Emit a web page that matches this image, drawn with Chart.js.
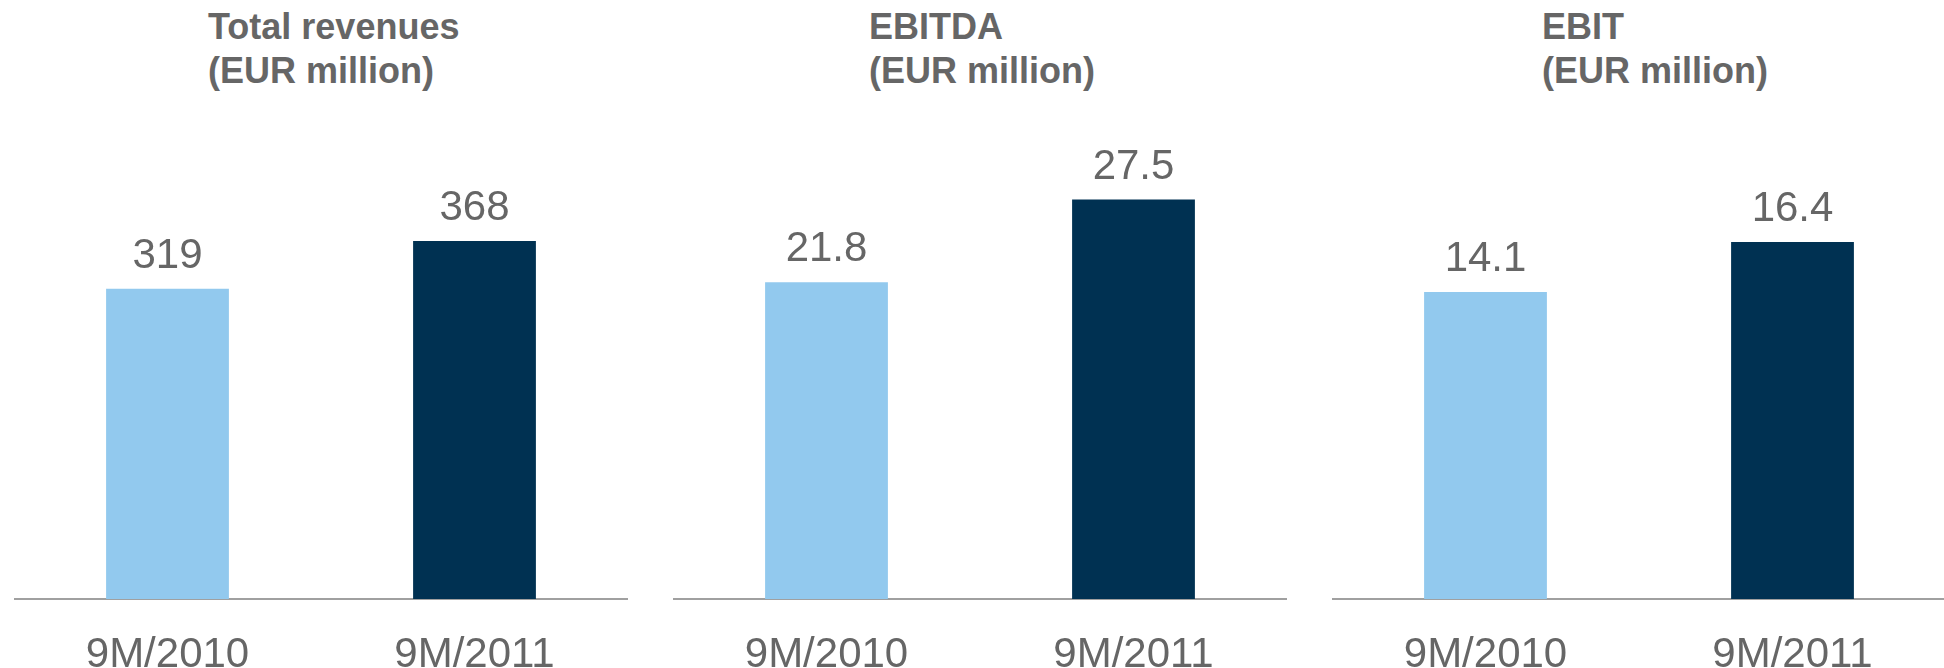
<!DOCTYPE html>
<html>
<head>
<meta charset="utf-8">
<script src="https://cdn.jsdelivr.net/npm/chart.js@4"></script>
<style>
  html, body { margin: 0; padding: 0; background: #fff; width: 1944px; height: 668px; overflow: hidden; }
  .panel { position: absolute; top: 100px; width: 614px; height: 575px; }
  .title {
    position: absolute; top: 5px;
    font-family: "Liberation Sans", Arial, sans-serif;
    font-weight: bold; font-size: 36px; line-height: 44px; color: #666;
    white-space: nowrap;
  }
</style>
</head>
<body>
<div class="title" style="left:208px">Total revenues<br>(EUR million)</div>
<div class="title" style="left:869px">EBITDA<br>(EUR million)</div>
<div class="title" style="left:1542px">EBIT<br>(EUR million)</div>

<div class="panel" style="left:14px"><canvas id="revChart" width="614" height="575"></canvas></div>
<div class="panel" style="left:673px"><canvas id="ebitdaChart" width="614" height="575"></canvas></div>
<div class="panel" style="left:1332px"><canvas id="ebitChart" width="614" height="575"></canvas></div>

<script>
// periods shown on every panel
const periods = ['9M/2010', '9M/2011'];

// values in EUR million
const revenues = [319, 368];
const ebitda = [21.8, 27.5];
const ebit = [14.1, 16.4];

// top of each value axis (axis is hidden)
const revenuesMax = 513;
const ebitdaMax = 34.35;
const ebitMax = 22.92;

const barColors = ['#92C9EE', '#003152'];
const textColor = '#666666';
const fontFamily = '"Liberation Sans", Arial, sans-serif';

// draws the number above each bar
const valueLabels = {
  id: 'valueLabels',
  afterDatasetsDraw(chart, args, opts) {
    const ctx = chart.ctx;
    const ds = chart.data.datasets[0];
    ctx.save();
    ctx.font = '42px ' + fontFamily;
    ctx.fillStyle = textColor;
    ctx.textAlign = 'center';
    ctx.textBaseline = 'alphabetic';
    chart.getDatasetMeta(0).data.forEach((bar, i) => {
      ctx.fillText(ds.data[i].toFixed(opts.decimals), bar.x, bar.y - 21);
    });
    ctx.restore();
  }
};

function makeChart(id, values, yMax, decimals) {
  return new Chart(document.getElementById(id), {
    type: 'bar',
    data: {
      labels: periods,
      datasets: [{ data: values, backgroundColor: barColors, barPercentage: 1, categoryPercentage: 0.4 }]
    },
    options: {
      responsive: false,
      animation: false,
      layout: { padding: 0 },
      plugins: {
        legend: { display: false },
        tooltip: { enabled: false },
        valueLabels: { decimals }
      },
      scales: {
        x: {
          grid: { display: false },
          border: { display: true, color: '#a0a0a0', width: 2 },
          ticks: { color: textColor, padding: 27, font: { family: fontFamily, size: 42, lineHeight: 1 } },
          afterFit: (scale) => { scale.height = 76; } // keep the baseline at the same height on all panels
        },
        y: { display: false, min: 0, max: yMax }
      }
    },
    plugins: [valueLabels]
  });
}

makeChart('revChart', revenues, revenuesMax, 0);
makeChart('ebitdaChart', ebitda, ebitdaMax, 1);
makeChart('ebitChart', ebit, ebitMax, 1);
</script>
</body>
</html>
